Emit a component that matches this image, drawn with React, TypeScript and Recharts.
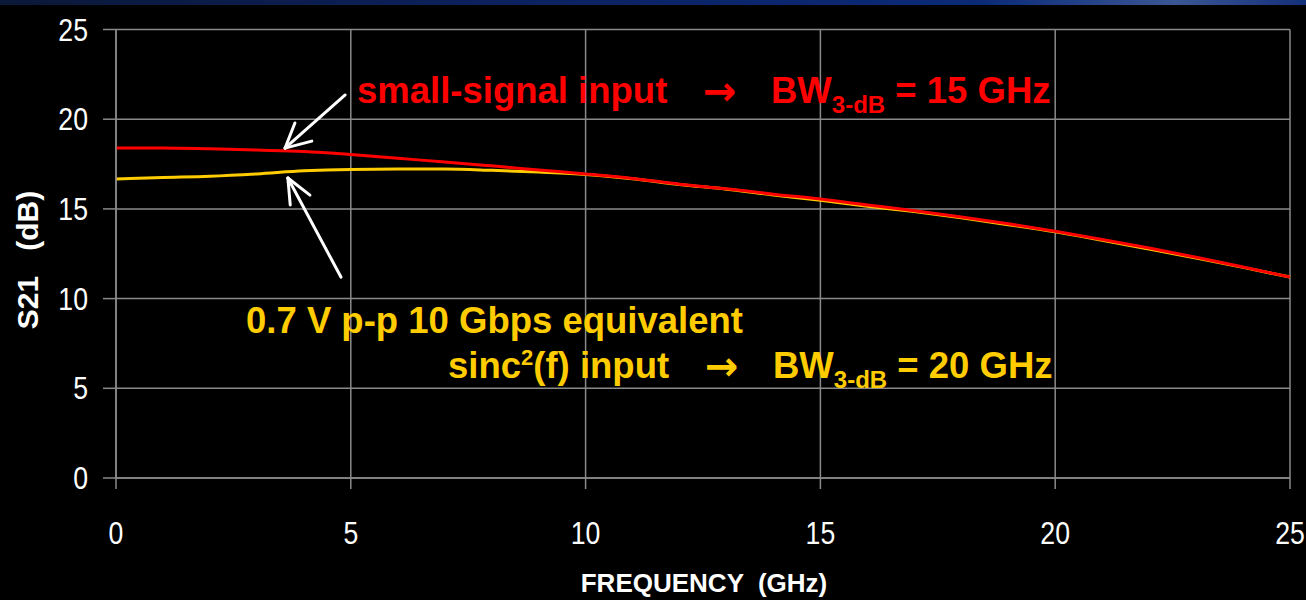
import React from 'react';
import {
  LineChart,
  Line,
  XAxis,
  YAxis,
  CartesianGrid,
  ReferenceLine,
  Customized,
} from 'recharts';

const frequencies = [0, 1, 2, 3, 4, 5, 6, 7, 8, 9, 10, 11, 12, 13, 14, 15, 16, 17, 18, 19, 20, 21, 22, 23, 24, 25];
const smallSignal = [18.4, 18.4, 18.35, 18.28, 18.2, 18.03, 17.82, 17.62, 17.4, 17.17, 16.95, 16.7, 16.38, 16.12, 15.82, 15.55, 15.22, 14.9, 14.55, 14.17, 13.75, 13.3, 12.82, 12.3, 11.76, 11.2];
const sincInput = [16.67, 16.75, 16.82, 16.95, 17.12, 17.2, 17.22, 17.22, 17.15, 17.05, 16.92, 16.68, 16.36, 16.1, 15.78, 15.48, 15.15, 14.85, 14.5, 14.12, 13.72, 13.25, 12.76, 12.26, 11.74, 11.2];
const xTicks = [0, 5, 10, 15, 20, 25];
const yTicks = [0, 5, 10, 15, 20, 25];

// arrow annotations in data coordinates: [x1, y1, x2, y2]
const arrowSmall = [
  [4.88, 21.35, 3.6, 18.39],
  [3.6, 18.39, 3.81, 19.79],
  [3.6, 18.39, 4.17, 18.78],
];
const arrowSinc = [
  [4.79, 11.2, 3.66, 16.72],
  [3.66, 16.72, 3.71, 15.22],
  [3.66, 16.72, 4.13, 15.77],
];

const data = frequencies.map((f, i) => ({ f, small: smallSignal[i], sinc: sincInput[i] }));

const GRID = '#8a8a8a';
const RED = '#ff0000';
const YEL = '#ffcc00';
const BOLD = "'Liberation Sans', Arial, sans-serif";
const ARROW = "'DejaVu Sans', sans-serif";

const XTick = (props: any) => {
  const { x, y, payload } = props;
  return (
    <text
      transform={`translate(${x},${y + 22}) scale(0.86,1)`}
      fill="#ffffff"
      fontSize={31}
      fontFamily={BOLD}
      textAnchor="middle"
    >
      {payload.value}
    </text>
  );
};

const YTick = (props: any) => {
  const { x, y, payload } = props;
  return (
    <text
      transform={`translate(${x},${y + 11}) scale(0.86,1)`}
      fill="#ffffff"
      fontSize={31}
      fontFamily={BOLD}
      textAnchor="end"
    >
      {payload.value}
    </text>
  );
};

const Annotations = () => (
  <g fontFamily={BOLD} fontWeight="bold">
    <text x={357} y={103} fill={RED} fontSize={36.5}>small-signal input</text>
    <text x={703} y={105} fill={RED} fontSize={40} fontFamily={ARROW}>→</text>
    <text x={771} y={103} fill={RED} fontSize={36.5}>
      BW
      <tspan fontSize={24} dy={10}>3-dB</tspan>
      <tspan dy={-10}> = 15 GHz</tspan>
    </text>
    <text x={246} y={333} fill={YEL} fontSize={36.5}>0.7 V p-p 10 Gbps equivalent</text>
    <text x={448} y={378} fill={YEL} fontSize={36.5}>
      sinc
      <tspan fontSize={22} dy={-13}>2</tspan>
      <tspan dy={13}>(f) input</tspan>
    </text>
    <text x={705} y={380} fill={YEL} fontSize={40} fontFamily={ARROW}>→</text>
    <text x={773} y={378} fill={YEL} fontSize={36.5}>
      BW
      <tspan fontSize={24} dy={10}>3-dB</tspan>
      <tspan dy={-10}> = 20 GHz</tspan>
    </text>
    <text
      x={38}
      y={260}
      fill="#ffffff"
      fontSize={30}
      textAnchor="middle"
      transform="rotate(-90 38 260)"
      style={{ whiteSpace: 'pre' }}
    >
      S21   (dB)
    </text>
    <text x={704} y={592} fill="#ffffff" fontSize={26} textAnchor="middle" style={{ whiteSpace: 'pre' }}>
      FREQUENCY  (GHz)
    </text>
  </g>
);

export default function App() {
  return (
    <div
      style={{
        position: 'fixed',
        left: 0,
        top: 0,
        width: 1306,
        height: 600,
        background: '#000000',
        overflow: 'hidden',
      }}
    >
      <div
        style={{
          position: 'absolute',
          left: 0,
          top: 0,
          width: 1306,
          height: 5,
          background: 'linear-gradient(90deg, #0b1838 0%, #0c2260 40%, #0a2a78 75%, #3a5694 90%, #13307a 100%)',
        }}
      />
      <LineChart
        width={1306}
        height={600}
        data={data}
        margin={{ top: 29.5, right: 16, bottom: 0, left: 0 }}
      >
        <CartesianGrid stroke={GRID} strokeWidth={1.5} fill="none" />
        <XAxis
          dataKey="f"
          type="number"
          domain={[0, 25]}
          ticks={xTicks}
          height={122}
          tickSize={11}
          tickMargin={33}
          stroke={GRID}
          strokeWidth={1.5}
          tickLine={{ stroke: GRID, strokeWidth: 1.5 }}
          axisLine={{ stroke: GRID, strokeWidth: 1.5 }}
          tick={<XTick />}
          interval={0}
        />
        <YAxis
          type="number"
          domain={[0, 25]}
          ticks={yTicks}
          width={116}
          tickSize={13}
          tickMargin={15}
          stroke={GRID}
          strokeWidth={1.5}
          tickLine={{ stroke: GRID, strokeWidth: 1.5 }}
          axisLine={{ stroke: GRID, strokeWidth: 1.5 }}
          tick={<YTick />}
          interval={0}
        />
        <Line
          type="monotone"
          dataKey="sinc"
          stroke={YEL}
          strokeWidth={3}
          dot={false}
          activeDot={false}
          isAnimationActive={false}
        />
        <Line
          type="monotone"
          dataKey="small"
          stroke={RED}
          strokeWidth={3}
          dot={false}
          activeDot={false}
          isAnimationActive={false}
        />
        {arrowSmall.concat(arrowSinc).map((s, i) => (
          <ReferenceLine
            key={i}
            segment={[
              { x: s[0], y: s[1] },
              { x: s[2], y: s[3] },
            ]}
            stroke="#ffffff"
            strokeWidth={3}
            strokeLinecap="round"
            ifOverflow="visible"
          />
        ))}
        <Customized component={Annotations} />
      </LineChart>
    </div>
  );
}
